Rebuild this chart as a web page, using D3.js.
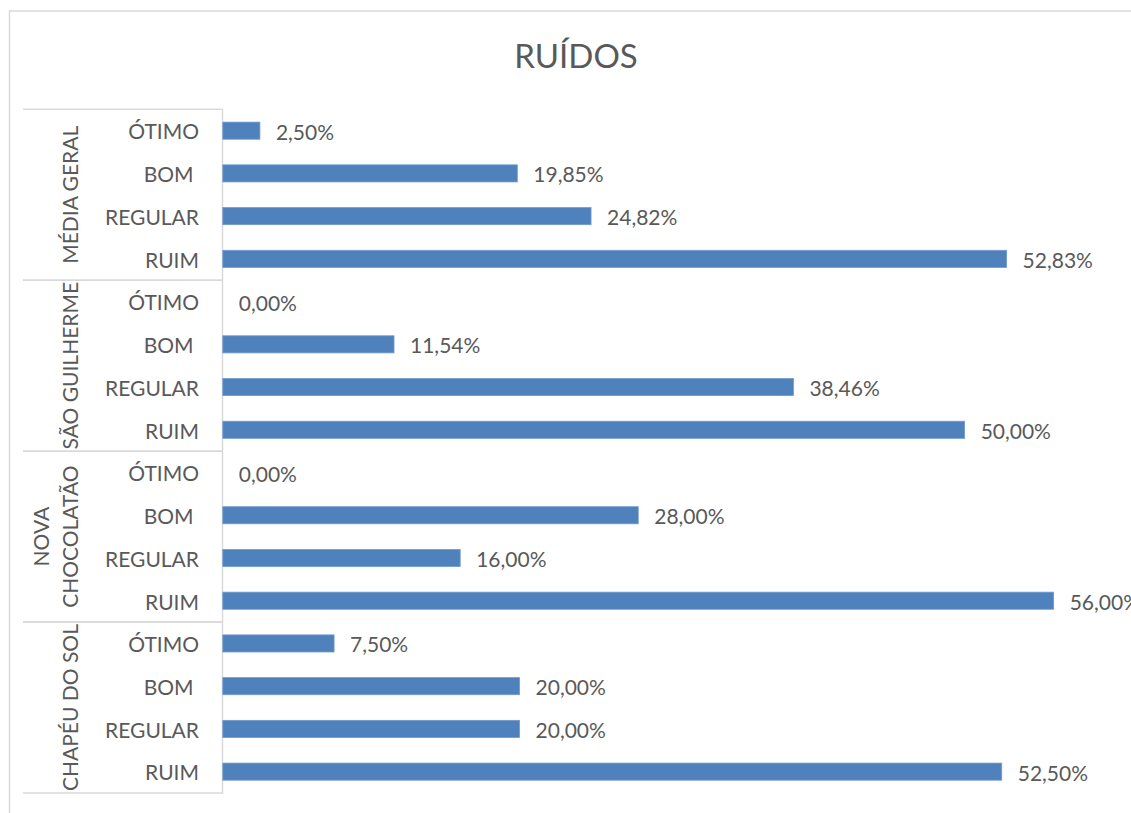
<!DOCTYPE html>
<html>
<head>
<meta charset="utf-8">
<script src="https://cdn.jsdelivr.net/npm/d3@7"></script>
<style>
  html, body { margin: 0; padding: 0; background: #fff; }
  svg { display: block; }
  text { font-family: Lato, "Open Sans", sans-serif; fill: #595959; }
</style>
</head>
<body>
<svg id="chart" width="1131" height="813"></svg>
<script>
// Neighbourhood groups and rating categories
const groups = ["MÉDIA GERAL", "SÃO GUILHERME", "NOVA CHOCOLATÃO", "CHAPÉU DO SOL"];
const groupLines = [["MÉDIA GERAL"], ["SÃO GUILHERME"], ["NOVA", "CHOCOLATÃO"], ["CHAPÉU DO SOL"]];
const categories = ["ÓTIMO", "BOM ", "REGULAR", "RUIM"];

// Share of answers (%) per category, in the order of `categories`
const mediaGeral     = [2.50, 19.85, 24.82, 52.83];
const saoGuilherme   = [0.00, 11.54, 38.46, 50.00];
const novaChocolatao = [0.00, 28.00, 16.00, 56.00];
const chapeuDoSol    = [7.50, 20.00, 20.00, 52.50];

const xMax = 60;
const title = "RUÍDOS";

const seriesByGroup = [mediaGeral, saoGuilherme, novaChocolatao, chapeuDoSol];
const rows = [];
groups.forEach((g, gi) => {
  categories.forEach((c, ci) => {
    rows.push({ key: gi + "|" + ci, group: g, gi, cat: c, value: seriesByGroup[gi][ci] });
  });
});

const svg = d3.select("#chart");
const gridColor = "#d9d9d9";

// chart frame
svg.append("rect")
  .attr("x", 9.5).attr("y", 11)
  .attr("width", 1140).attr("height", 820)
  .attr("fill", "none").attr("stroke", gridColor).attr("stroke-width", 1.5);

// title
svg.append("text")
  .attr("x", 576).attr("y", 68)
  .attr("text-anchor", "middle")
  .style("font-size", "33px")
  .text(title);

const plotTop = 109.3, plotBottom = 793;
const x0 = 222.8, x1 = 1113;

const x = d3.scaleLinear().domain([0, xMax]).range([x0, x1]);
const y = d3.scaleBand()
  .domain(rows.map(d => d.key))
  .range([plotTop, plotBottom])
  .paddingInner(0.6)
  .paddingOuter(0.3);

const groupY = d3.scaleBand()
  .domain(groups)
  .range([plotTop, plotBottom]);

// group separators in the category area
const sepX0 = 23;
groups.forEach(g => {
  [groupY(g), groupY(g) + groupY.bandwidth()].forEach(yy => {
    svg.append("line")
      .attr("x1", sepX0).attr("x2", x0)
      .attr("y1", yy).attr("y2", yy)
      .attr("stroke", gridColor).attr("stroke-width", 1.5);
  });
});

// category axis
const yAxis = d3.axisLeft(y)
  .tickSizeInner(0).tickSizeOuter(0)
  .tickPadding(23)
  .tickFormat(k => rows.find(r => r.key === k).cat);

const axisG = svg.append("g")
  .attr("transform", `translate(${x0 - 0.8},0)`)
  .call(yAxis);
axisG.select(".domain").attr("stroke", gridColor).attr("stroke-width", 1.5);
axisG.selectAll(".tick text")
  .attr("font-family", null).attr("font-size", null)
  .style("font-size", "21px")
  .style("fill", "#595959")
  .style("white-space", "pre")
  .attr("dy", "0.42em");

// group labels, rotated
groups.forEach((g, gi) => {
  const cy = groupY(g) + groupY.bandwidth() / 2;
  const lines = groupLines[gi];
  const lineGap = 29;
  const lastBaseline = 78;
  const t = svg.append("text")
    .attr("transform", `translate(0,${cy}) rotate(-90)`)
    .attr("text-anchor", "middle")
    .style("font-size", "21px");
  lines.forEach((ln, li) => {
    const baseX = lastBaseline - (lines.length - 1 - li) * lineGap;
    t.append("tspan")
      .attr("x", 0)
      .attr("y", baseX)
      .text(ln);
  });
});

// bars
svg.append("g").selectAll("rect")
  .data(rows)
  .join("rect")
  .attr("x", x(0))
  .attr("y", d => y(d.key))
  .attr("width", d => x(d.value) - x(0))
  .attr("height", y.bandwidth())
  .attr("fill", "#4f81bd")
  .attr("stroke", d => d.value > 0 ? "#7199cc" : "none")
  .attr("stroke-width", 0.8);

// value labels
const locale = d3.formatLocale({ decimal: ",", thousands: ".", grouping: [3], currency: ["R$", ""] });
const fmt = v => locale.format(".2f")(v) + "%";

svg.append("g").selectAll("text")
  .data(rows)
  .join("text")
  .attr("x", d => x(d.value) + 16)
  .attr("y", d => y(d.key) + y.bandwidth() / 2 + 9)
  .style("font-size", "21px")
  .text(d => fmt(d.value));
</script>
</body>
</html>
